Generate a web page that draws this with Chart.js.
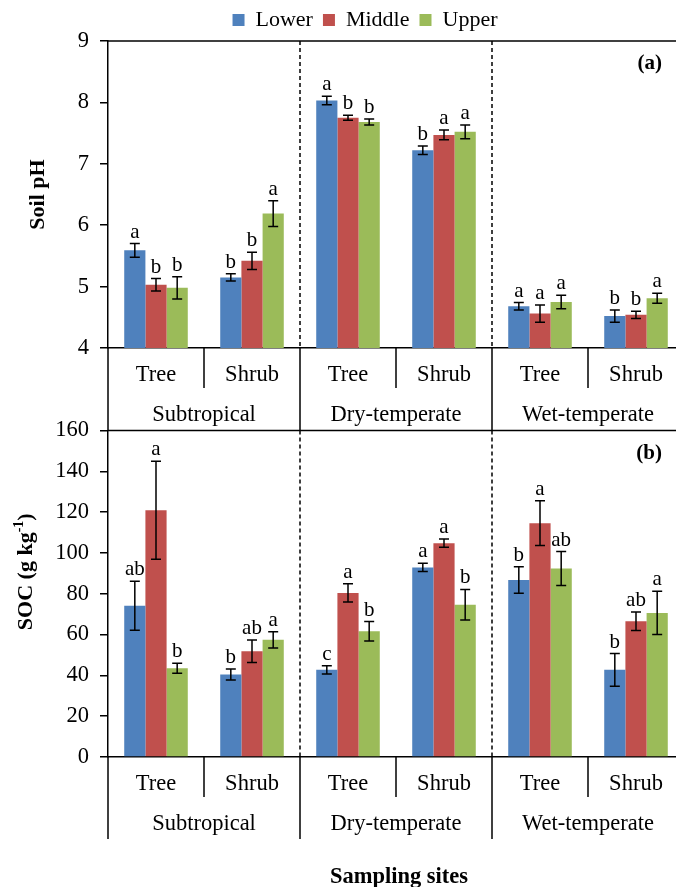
<!DOCTYPE html>
<html>
<head>
<meta charset="utf-8">
<script src="https://cdn.jsdelivr.net/npm/chart.js@4/dist/chart.umd.min.js"></script>
<style>
  html, body { margin: 0; padding: 0; background: #fff; overflow: hidden; }
  #wrap { position: relative; width: 676px; height: 887px; overflow: hidden; }
  canvas { position: absolute; left: 0; }
</style>
</head>
<body>
<div id="wrap">
  <canvas id="phChart" width="730" height="430" style="top:0"></canvas>
  <canvas id="socChart" width="730" height="482" style="top:405px"></canvas>
</div>
<script>
// categories
const groups = ["Tree", "Shrub", "Tree", "Shrub", "Tree", "Shrub"];
const sites = ["Subtropical", "Dry-temperate", "Wet-temperate"];
const seriesNames = ["Lower", "Middle", "Upper"];

// (a) soil pH
const phLower = [5.59, 5.15, 8.03, 7.22, 4.68, 4.52];
const phMiddle = [5.03, 5.42, 7.75, 7.47, 4.56, 4.54];
const phUpper = [4.98, 6.19, 7.68, 7.52, 4.75, 4.81];
const phLowerErr = [0.11, 0.06, 0.07, 0.07, 0.06, 0.10];
const phMiddleErr = [0.10, 0.14, 0.04, 0.08, 0.14, 0.06];
const phUpperErr = [0.18, 0.21, 0.05, 0.11, 0.11, 0.08];
const phLowerSig = ["a", "b", "a", "b", "a", "b"];
const phMiddleSig = ["b", "b", "b", "a", "a", "b"];
const phUpperSig = ["b", "a", "b", "a", "a", "a"];
const phTicks = [4, 9, 1]; // min, max, step

// (b) SOC
const socLower = [74.1, 40.4, 42.7, 92.9, 86.7, 42.7];
const socMiddle = [120.9, 51.8, 80.4, 104.8, 114.6, 66.5];
const socUpper = [43.5, 57.4, 61.6, 74.6, 92.4, 70.6];
const socLowerErr = [12, 2.7, 2, 2, 6.5, 8];
const socMiddleErr = [24, 5.5, 4.5, 2, 11, 4.5];
const socUpperErr = [2.5, 4, 4.8, 7.5, 8.3, 10.6];
const socLowerSig = ["ab", "b", "c", "a", "b", "b"];
const socMiddleSig = ["a", "ab", "a", "a", "a", "ab"];
const socUpperSig = ["b", "a", "b", "b", "ab", "a"];
const socTicks = [0, 160, 20];

const colors = ["#4F81BD", "#C0504D", "#9BBB59"];
const FONT = "'Liberation Serif', 'Times New Roman', serif";

function makeDatasets(vals, errs, sigs) {
  return vals.map((v, i) => ({
    label: seriesNames[i],
    data: v,
    errors: errs[i],
    letters: sigs[i],
    backgroundColor: colors[i],
    borderWidth: 0,
    categoryPercentage: 0.662,
    barPercentage: 1.0
  }));
}

// error bars, letters, separators and the two-level axis labels
const panelPlugin = {
  id: "panel",
  afterDatasetsDraw(chart, args, opts) {
    const { ctx, scales: { y } } = chart;
    ctx.save();
    ctx.strokeStyle = "#000";
    ctx.fillStyle = "#000";
    ctx.lineWidth = 1.5;
    ctx.font = "21px " + FONT;
    ctx.textAlign = "center";
    ctx.textBaseline = "alphabetic";
    chart.data.datasets.forEach((ds, i) => {
      chart.getDatasetMeta(i).data.forEach((bar, j) => {
        const v = ds.data[j], e = ds.errors[j];
        const yTop = y.getPixelForValue(v + e);
        const yBot = y.getPixelForValue(v - e);
        ctx.beginPath();
        ctx.moveTo(bar.x, yTop); ctx.lineTo(bar.x, yBot);
        ctx.moveTo(bar.x - 5, yTop); ctx.lineTo(bar.x + 5, yTop);
        ctx.moveTo(bar.x - 5, yBot); ctx.lineTo(bar.x + 5, yBot);
        ctx.stroke();
        ctx.fillText(ds.letters[j], bar.x, yTop - 6);
      });
    });
    ctx.restore();
  },
  afterDraw(chart, args, opts) {
    const { ctx, chartArea: { left, right, top, bottom }, scales: { x } } = chart;
    ctx.save();
    ctx.strokeStyle = "#000";
    ctx.lineWidth = 1.5;

    // top frame line
    ctx.beginPath();
    ctx.moveTo(left, top); ctx.lineTo(right, top);
    ctx.stroke();

    // separators
    const n = groups.length;
    const edges = [left];
    for (let j = 0; j < n - 1; j++) {
      edges.push((x.getPixelForValue(j) + x.getPixelForValue(j + 1)) / 2);
    }
    edges.push(right);
    edges.forEach((ex, k) => {
      const isSite = k % 2 === 0;
      if (isSite && k > 0 && k < n) {
        ctx.setLineDash([4, 3]);
        ctx.beginPath();
        ctx.moveTo(ex, top); ctx.lineTo(ex, bottom);
        ctx.stroke();
        ctx.setLineDash([]);
      }
      ctx.beginPath();
      ctx.moveTo(ex, bottom);
      ctx.lineTo(ex, bottom + (isSite ? 82 : 40));
      ctx.stroke();
    });

    // labels
    ctx.fillStyle = "#000";
    ctx.textAlign = "center";
    ctx.textBaseline = "middle";
    ctx.font = "22.5px " + FONT;
    groups.forEach((g, j) => ctx.fillText(g, x.getPixelForValue(j), bottom + 27));
    sites.forEach((s, k) => {
      const cx = (x.getPixelForValue(2 * k) + x.getPixelForValue(2 * k + 1)) / 2;
      ctx.fillText(s, cx, bottom + 67);
    });

    // panel tag
    ctx.font = "bold 21px " + FONT;
    ctx.textAlign = "right";
    ctx.fillText(opts.tag, right - 22, top + 23);

    // x title
    if (opts.xTitle) {
      ctx.font = "bold 22.5px " + FONT;
      ctx.textAlign = "center";
      ctx.fillText(opts.xTitle, (left + right) / 2 + 3, bottom + 120);
    }

    // y title, with optional superscript part
    ctx.translate(opts.yTitleX, (top + bottom) / 2 + opts.yTitleDy);
    ctx.rotate(-Math.PI / 2);
    ctx.textAlign = "left";
    ctx.textBaseline = "middle";
    const big = "bold 22px " + FONT, small = "bold 14px " + FONT;
    const parts = opts.yTitle;
    let total = 0;
    parts.forEach(p => { ctx.font = p.sup ? small : big; total += ctx.measureText(p.t).width; });
    let cx = -total / 2;
    parts.forEach(p => {
      ctx.font = p.sup ? small : big;
      ctx.fillText(p.t, cx, p.sup ? -7 : 0);
      cx += ctx.measureText(p.t).width;
    });
    ctx.restore();
  }
};

function makeChart(id, datasets, ticks, legend, pad, xHeight, panelOpts) {
  return new Chart(document.getElementById(id), {
    type: "bar",
    data: { labels: groups, datasets: datasets },
    options: {
      responsive: false,
      animation: false,
      layout: { padding: pad },
      plugins: {
        legend: {
          display: legend,
          position: "top",
          labels: {
            font: { family: FONT, size: 22 },
            color: "#000",
            boxWidth: 12,
            boxHeight: 12,
            padding: 10
          }
        },
        tooltip: { enabled: false },
        panel: panelOpts
      },
      scales: {
        x: {
          ticks: { display: false },
          grid: { display: false },
          border: { display: true, color: "#000", width: 1.5 },
          afterFit: s => { s.height = xHeight; }
        },
        y: {
          min: ticks[0],
          max: ticks[1],
          ticks: {
            stepSize: ticks[2],
            font: { family: FONT, size: 22.5 },
            color: "#000",
            padding: 11
          },
          grid: { drawOnChartArea: false, tickLength: 8, color: "#000", lineWidth: 1.5 },
          border: { display: true, color: "#000", width: 1.5 },
          afterFit: s => { s.width = 62; }
        }
      }
    },
    plugins: [panelPlugin]
  });
}

makeChart("phChart",
  makeDatasets([phLower, phMiddle, phUpper], [phLowerErr, phMiddleErr, phUpperErr], [phLowerSig, phMiddleSig, phUpperSig]),
  phTicks, true, { top: -1, right: 46, left: 46, bottom: 0 }, 82,
  { tag: "(a)", yTitle: [{ t: "Soil pH" }], yTitleX: 38, yTitleDy: 0 });

makeChart("socChart",
  makeDatasets([socLower, socMiddle, socUpper], [socLowerErr, socMiddleErr, socUpperErr], [socLowerSig, socMiddleSig, socUpperSig]),
  socTicks, false, { top: 25.5, right: 46, left: 46, bottom: 0 }, 130,
  { tag: "(b)", xTitle: "Sampling sites", yTitle: [{ t: "SOC (g kg" }, { t: "-1", sup: true }, { t: ")" }], yTitleX: 26, yTitleDy: -22 });
</script>
</body>
</html>
